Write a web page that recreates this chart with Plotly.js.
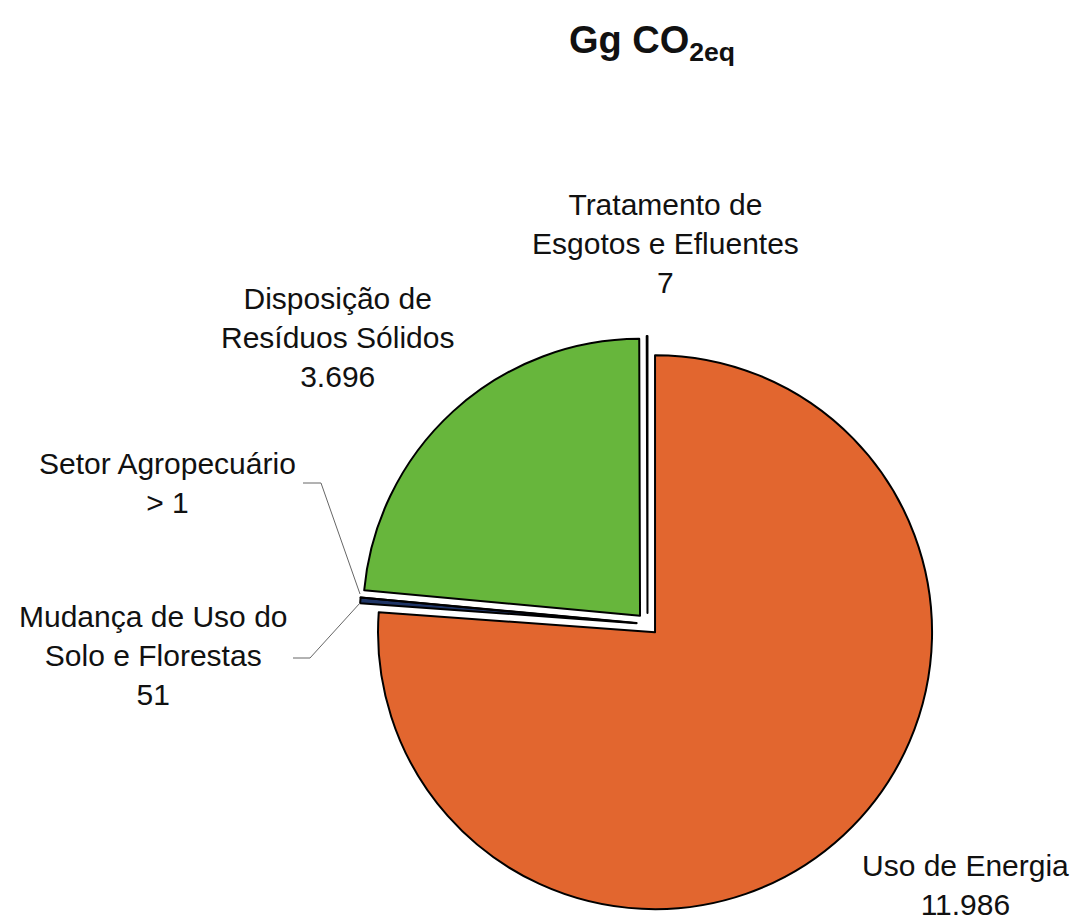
<!DOCTYPE html>
<html>
<head>
<meta charset="utf-8">
<script src="https://cdn.plot.ly/plotly-3.0.1.min.js"></script>
<style>html,body{margin:0;padding:0;background:#fff}#chart{width:1077px;height:923px}</style>
</head>
<body>
<div id="chart"></div>
<script>
// Data (clockwise from 12 o'clock)
const sectors = ["Uso de Energia", "Mudança de Uso do Solo e Florestas", "Setor Agropecuário", "Disposição de Resíduos Sólidos", "Tratamento de Esgotos e Efluentes"];
const values = [11986, 51, 0.5, 3696, 7];
const valueLabels = ["11.986", "51", "> 1", "3.696", "7"];
const labelLines = [["Uso de Energia"], ["Mudança de Uso do", "Solo e Florestas"], ["Setor Agropecuário"], ["Disposição de", "Resíduos Sólidos"], ["Tratamento de", "Esgotos e Efluentes"]];
const colors = ["#E2662F", "#1F3566", "#7F7F7F", "#67B63C", "#FFFFFF"];

const W = 1077, H = 923;
const px = x => x / W, py = y => 1 - y / H;

// label placement (pixel centres)
const labelPos = [[965, 885], [153, 655], [167, 483], [337, 338], [665, 244]];

const FONT = "Liberation Sans, Arial, Helvetica, sans-serif";

const annotations = sectors.map((s, i) => ({
  text: labelLines[i].concat([valueLabels[i]]).join("<br>"),
  x: px(labelPos[i][0]), y: py(labelPos[i][1]),
  xref: "paper", yref: "paper", xanchor: "center", yanchor: "middle",
  showarrow: false, align: "center",
  font: {family: FONT, size: 30, color: "#111"}
}));

const pathFrom = pts => pts.map((p, i) => (i ? "L" : "M") + px(p[0]) + "," + py(p[1])).join(" ");
const shapes = [
  {type: "path", xref: "paper", yref: "paper", path: pathFrom([[303, 483], [321, 483], [360, 594]]), line: {color: "#666", width: 1}},
  {type: "path", xref: "paper", yref: "paper", path: pathFrom([[293, 658], [310, 658], [360, 603]]), line: {color: "#666", width: 1}}
];

const trace = {
  type: "pie",
  labels: sectors,
  values: values,
  sort: false,
  direction: "clockwise",
  rotation: 0,
  pull: [0.04, 0.04, 0.04, 0.04, 0.04],
  textinfo: "none",
  hoverinfo: "label+value",
  marker: {colors: colors, line: {color: "#000", width: 2}},
  domain: {x: [0.3337, 0.8687], y: [0.0117, 0.6361]},
  showlegend: false
};

const layout = {
  width: W, height: H,
  margin: {l: 0, r: 0, t: 0, b: 0},
  paper_bgcolor: "#fff",
  showlegend: false,
  title: {text: "<b>Gg CO<sub>2eq</sub></b>", x: px(652), xanchor: "center", xref: "paper", y: py(40), yanchor: "middle", yref: "paper",
          font: {family: FONT, size: 38, color: "#111"}},
  annotations: annotations,
  shapes: shapes
};

Plotly.newPlot("chart", [trace], layout, {displayModeBar: false, staticPlot: true});
</script>
</body>
</html>
